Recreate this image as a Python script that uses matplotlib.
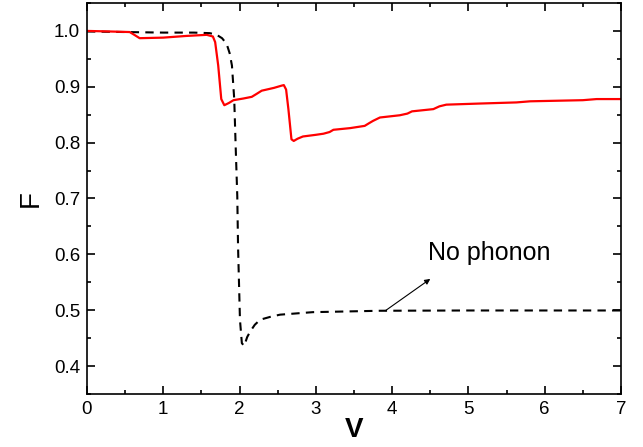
import numpy as np
import matplotlib.pyplot as plt
from matplotlib.ticker import MultipleLocator

plt.rcParams['font.family'] = ['Liberation Sans', 'DejaVu Sans']

# red curve (with phonon)
v_red = [0.0, 0.3, 0.56, 0.62, 0.69, 1.0, 1.3, 1.57, 1.65, 1.68, 1.72, 1.76, 1.80,
         1.86, 1.92, 2.05, 2.16, 2.22, 2.29, 2.45, 2.55, 2.58, 2.61, 2.64, 2.68, 2.71,
         2.76, 2.83, 3.0, 3.10, 3.18, 3.23, 3.45, 3.64, 3.70, 3.75, 3.84, 4.10, 4.20,
         4.26, 4.54, 4.62, 4.71, 5.15, 5.63, 5.81, 6.50, 6.68, 7.0]
f_red = [1.0, 0.999, 0.998, 0.993, 0.987, 0.988, 0.991, 0.993, 0.99, 0.98, 0.938,
         0.878, 0.867, 0.871, 0.876, 0.879, 0.882, 0.887, 0.893, 0.898, 0.902, 0.903,
         0.895, 0.86, 0.806, 0.803, 0.807, 0.811, 0.814, 0.816, 0.819, 0.823, 0.826,
         0.830, 0.835, 0.839, 0.845, 0.849, 0.852, 0.856, 0.860, 0.865, 0.868, 0.870,
         0.872, 0.874, 0.876, 0.878, 0.878]

# black dashed curve (no phonon)
v_blk = [0.0, 0.5, 1.0, 1.4, 1.61, 1.70, 1.77, 1.83, 1.87, 1.90, 1.93, 1.95, 1.97,
         1.98, 2.005, 2.03, 2.06, 2.10, 2.14, 2.20, 2.27, 2.40, 2.53, 2.96, 3.84, 5.0, 7.0]
f_blk = [0.999, 0.998, 0.997, 0.997, 0.996, 0.993, 0.987, 0.977, 0.96, 0.938, 0.878,
         0.788, 0.704, 0.614, 0.483, 0.441, 0.436, 0.452, 0.462, 0.474, 0.483, 0.488,
         0.492, 0.4965, 0.499, 0.4995, 0.4995]

fig = plt.figure(figsize=(6.43, 4.47), dpi=100)
ax = fig.add_axes([0.1353, 0.1186, 0.8305, 0.8747])

ax.plot(v_blk, f_blk, color='black', linestyle=(0, (4, 3)), linewidth=1.5)
ax.plot(v_red, f_red, color='red', linewidth=1.6)

ax.annotate('', xy=(4.50, 0.556), xytext=(3.91, 0.499),
            arrowprops=dict(arrowstyle='-|>', color='black', lw=0.8,
                            mutation_scale=8, shrinkA=0, shrinkB=0))
ax.text(4.47, 0.603, 'No phonon', fontsize=18, va='center', ha='left')

ax.set_xlim(0, 7)
ax.set_ylim(0.35, 1.05)
ax.xaxis.set_major_locator(MultipleLocator(1))
ax.xaxis.set_minor_locator(MultipleLocator(0.5))
ax.yaxis.set_minor_locator(MultipleLocator(0.05))
ax.set_yticks(np.arange(0.4, 1.01, 0.1))
ax.set_yticklabels(['%.1f' % y for y in np.arange(0.4, 1.01, 0.1)])
ax.tick_params(which='both', direction='in', top=True, right=True, labelsize=13.5, width=1.2)
ax.tick_params(which='major', length=6, pad=5)
ax.tick_params(which='minor', length=3)
for s in ax.spines.values():
    s.set_linewidth(1.2)

ax.set_xlabel('V', fontsize=20, fontweight='bold', labelpad=-1)
ax.set_ylabel('F', fontsize=20, labelpad=7)

fig.savefig('out.png', dpi=100)
